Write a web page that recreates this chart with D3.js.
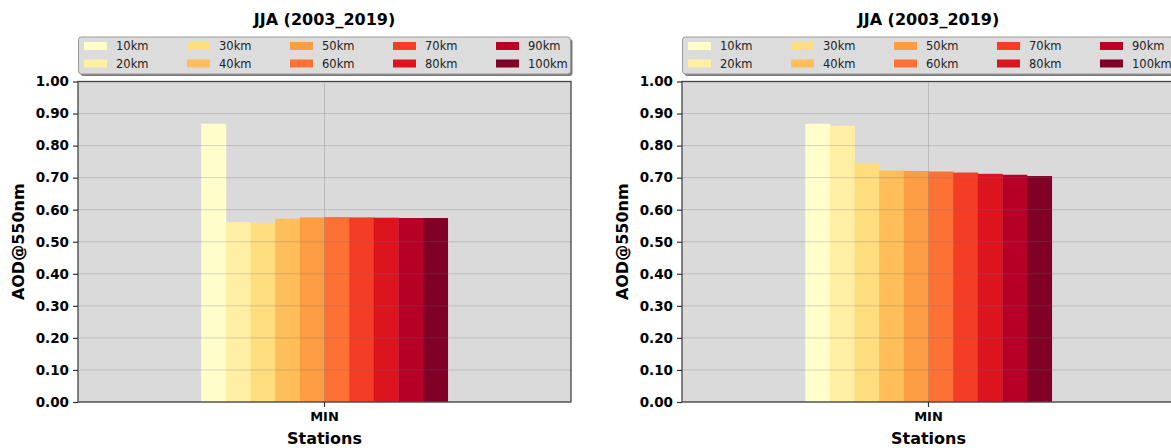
<!DOCTYPE html>
<html>
<head>
<meta charset="utf-8">
<script src="https://cdn.jsdelivr.net/npm/d3@7"></script>
<style>
  html, body { margin: 0; padding: 0; background: #fff; }
  svg { display: block; font-family: "DejaVu Sans", sans-serif; }
</style>
</head>
<body>
<svg id="chart" width="1171" height="448"></svg>
<script>
// ---- data ----
const stations = ["MIN"];
const distances = ["10km","20km","30km","40km","50km","60km","70km","80km","90km","100km"];
const leftValues  = [0.868, 0.561, 0.559, 0.572, 0.576, 0.577, 0.576, 0.575, 0.574, 0.574];
const rightValues = [0.868, 0.862, 0.745, 0.722, 0.721, 0.719, 0.716, 0.712, 0.709, 0.705];
const yTicks = [0.0,0.1,0.2,0.3,0.4,0.5,0.6,0.7,0.8,0.9,1.0];
const colors = ["#ffffcc","#ffefa5","#fedd7f","#febf5a","#fd9d43","#fd7134","#f43d25","#db141e","#b60026","#800026"];
const titleText = "JJA (2003_2019)";
const yLabel = "AOD@550nm";
const xLabel = "Stations";

const svg = d3.select("#chart");
const plotTop = 81.5, plotBottom = 402, plotW = 493;

function panel(x0, values) {
  const g = svg.append("g");
  const x = d3.scaleBand().domain(stations).range([x0, x0 + plotW]).paddingInner(0).paddingOuter(0.5);
  const xs = d3.scaleBand().domain(distances).range([0, x.bandwidth()]);
  const y = d3.scaleLinear().domain([0, 1]).range([plotBottom, plotTop]);

  // background
  g.append("rect").attr("x", x0).attr("y", plotTop).attr("width", plotW).attr("height", plotBottom - plotTop)
    .attr("fill", "#dadada");

  // bars
  stations.forEach(s => {
    g.selectAll(null).data(distances).enter().append("rect")
      .attr("x", d => x(s) + xs(d))
      .attr("width", xs.bandwidth() + 0.3)
      .attr("y", (d, i) => y(values[i]))
      .attr("height", (d, i) => y(0) - y(values[i]))
      .attr("fill", (d, i) => colors[i]);
  });

  // grid on top
  g.selectAll(null).data(yTicks).enter().append("line")
    .attr("x1", x0).attr("x2", x0 + plotW)
    .attr("y1", d => y(d)).attr("y2", d => y(d))
    .attr("stroke", "#707070").attr("stroke-opacity", 0.28).attr("stroke-width", 1);
  g.selectAll(null).data(stations).enter().append("line")
    .attr("x1", d => x(d) + x.bandwidth() / 2).attr("x2", d => x(d) + x.bandwidth() / 2)
    .attr("y1", plotTop).attr("y2", plotBottom)
    .attr("stroke", "#707070").attr("stroke-opacity", 0.28).attr("stroke-width", 1);

  // frame
  g.append("rect").attr("x", x0).attr("y", plotTop).attr("width", plotW).attr("height", plotBottom - plotTop)
    .attr("fill", "none").attr("stroke", "#444").attr("stroke-width", 1.3);

  // y axis
  const yAxis = d3.axisLeft(y).tickValues(yTicks).tickFormat(d3.format(".2f")).tickSize(5).tickPadding(4);
  const ya = g.append("g").attr("transform", `translate(${x0},0)`).call(yAxis);
  ya.select(".domain").remove();
  ya.selectAll("line").attr("stroke", "#333").attr("stroke-width", 1.2);
  ya.selectAll("text").attr("font-size", 13.5).attr("font-weight", "bold").attr("fill", "#000")
    .attr("font-family", "DejaVu Sans");

  // x axis
  const xAxis = d3.axisBottom(x).tickSize(5).tickPadding(5);
  const xa = g.append("g").attr("transform", `translate(0,${plotBottom})`).call(xAxis);
  xa.select(".domain").remove();
  xa.selectAll("line").attr("stroke", "#333").attr("stroke-width", 1.2);
  xa.selectAll("text").attr("font-size", 13).attr("font-weight", "bold").attr("fill", "#000")
    .attr("font-family", "DejaVu Sans");

  // axis labels
  const cx = x0 + plotW / 2;
  g.append("text").attr("x", cx).attr("y", 444).attr("text-anchor", "middle")
    .attr("font-size", 16).attr("font-weight", "bold").attr("fill", "#000").text(xLabel);
  g.append("text").attr("transform", `translate(${x0 - 60},${(plotTop + plotBottom) / 2}) rotate(-90)`)
    .attr("text-anchor", "middle").attr("dominant-baseline", "central")
    .attr("font-size", 16).attr("font-weight", "bold").attr("fill", "#000").text(yLabel);

  // title
  g.append("text").attr("x", cx).attr("y", 25).attr("text-anchor", "middle")
    .attr("font-size", 16).attr("font-weight", "bold").attr("fill", "#000").text(titleText);

  // legend
  const lx = x0 + 0.5, ly = 37, lw = plotW - 1, lh = 37;
  g.append("rect").attr("x", lx + 2).attr("y", ly + 2).attr("width", lw).attr("height", lh).attr("rx", 3)
    .attr("fill", "#7a7a7a");
  g.append("rect").attr("x", lx).attr("y", ly).attr("width", lw).attr("height", lh).attr("rx", 3)
    .attr("fill", "#dcdcdc").attr("stroke", "#9a9a9a").attr("stroke-width", 1);
  const colStep = 103;
  distances.forEach((d, i) => {
    const col = Math.floor(i / 2), row = i % 2;
    const hx = x0 + 6 + col * colStep;
    const hy = 42 + row * 17.5;
    g.append("rect").attr("x", hx).attr("y", hy).attr("width", 23).attr("height", 8).attr("fill", colors[i]);
    g.append("text").attr("x", hx + 32).attr("y", hy + 4).attr("dominant-baseline", "central")
      .attr("font-size", 11.5).attr("fill", "#222").text(d);
  });
}

panel(78, leftValues);
panel(682, rightValues);
</script>
</body>
</html>
